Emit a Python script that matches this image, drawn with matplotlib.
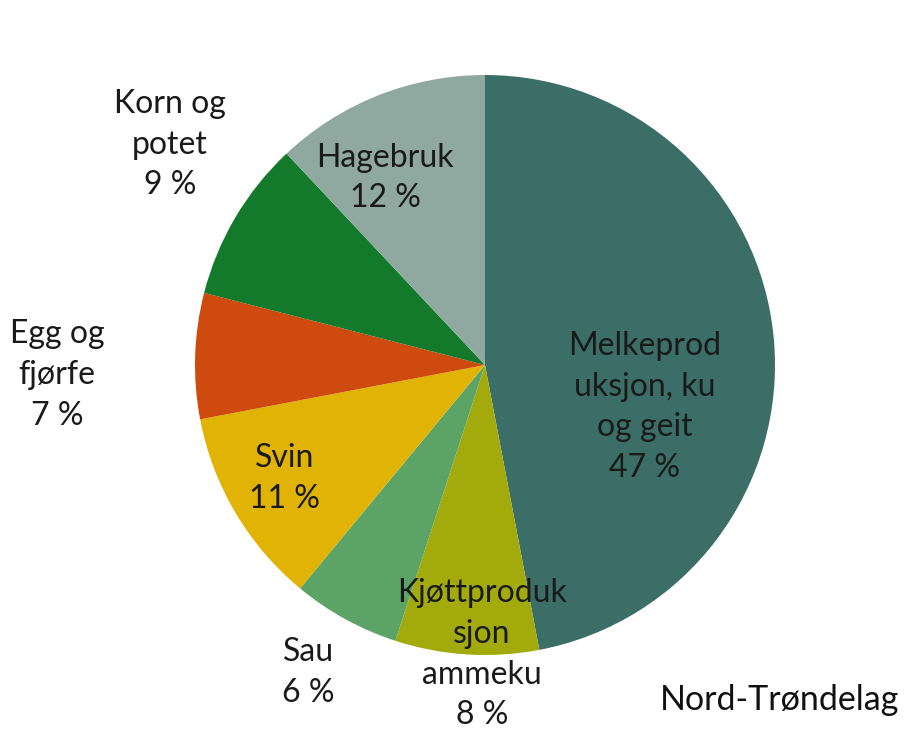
import matplotlib
matplotlib.use("Agg")
import matplotlib.pyplot as plt

plt.rcParams['font.family'] = ['Lato', 'DejaVu Sans']

labels = ["Melkeprod\nuksjon, ku\nog geit", "Kjøttproduk\nsjon\nammeku", "Sau", "Svin",
          "Egg og\nfjørfe", "Korn og\npotet", "Hagebruk"]
shares = [47, 8, 6, 11, 7, 9, 12]
colors = ["#3b6e66", "#a3ab0c", "#5ca465", "#e1b305", "#cf4a0e", "#137a2b", "#8fa9a1"]
# label centres, in units of the pie radius
label_pos = [(0.55, -0.145), (-0.01, -0.997), (-0.61, -1.06), (-0.69, -0.39),
             (-1.476, -0.034), (-1.086, 0.76), (-0.345, 0.645)]

W, H = 907, 733
cx, cy, r = 485, 365, 290

fig = plt.figure(figsize=(W / 100, H / 100), dpi=100)
ax = fig.add_axes([(cx - r) / W, (H - cy - r) / H, 2 * r / W, 2 * r / H])
ax.pie(shares, colors=colors, startangle=90, counterclock=False, radius=1,
       wedgeprops=dict(linewidth=0))
ax.set_xlim(-1, 1)
ax.set_ylim(-1, 1)
ax.set_aspect('auto')
ax.axis('off')

for lab, v, (x, y) in zip(labels, shares, label_pos):
    ax.text(x, y, f"{lab}\n{v} %", ha='center', va='center', fontsize=23,
            color='#1a1a1a', linespacing=1.45, clip_on=False)

fig.text(780 / W, 1 - 700 / H, "Nord-Trøndelag", ha='center', va='center',
         fontsize=24.5, color='#111111')

fig.savefig("out.png", dpi=100)
